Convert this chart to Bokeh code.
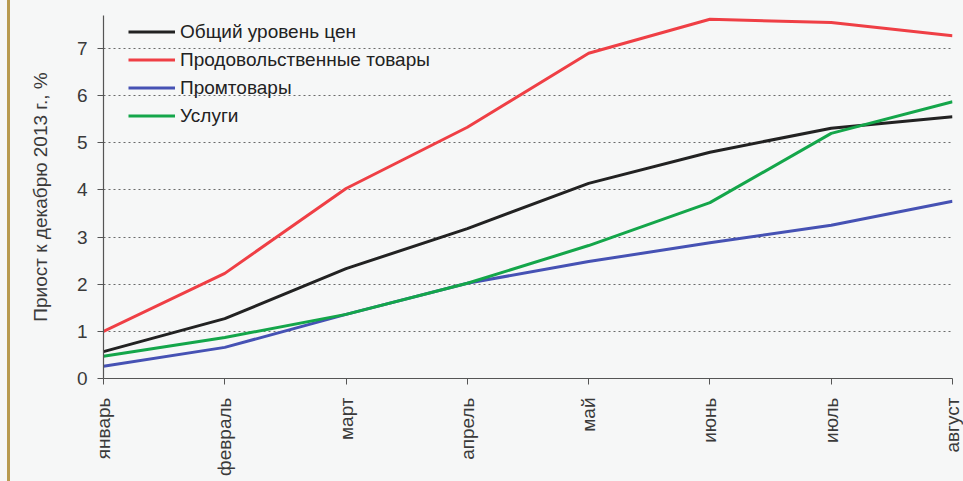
import math
from bokeh.plotting import figure
from bokeh.models import FixedTicker, Legend, LegendItem
from bokeh.embed import file_html
from bokeh.resources import INLINE

months = ["январь", "февраль", "март", "апрель", "май", "июнь", "июль", "август"]
overall = [0.57, 1.27, 2.33, 3.18, 4.14, 4.80, 5.31, 5.55]
food = [1.00, 2.23, 4.03, 5.33, 6.90, 7.62, 7.55, 7.27]
nonfood = [0.26, 0.66, 1.36, 2.02, 2.48, 2.88, 3.25, 3.76]
services = [0.47, 0.87, 1.36, 2.02, 2.82, 3.73, 5.20, 5.87]
series_names = ["Общий уровень цен", "Продовольственные товары", "Промтовары", "Услуги"]
y_ticks = [0, 1, 2, 3, 4, 5, 6, 7]
y_label = "Приост к декабрю 2013 г., %"

colors = ["#222222", "#ef3f45", "#4652b4", "#14a64a"]
FONT = "Liberation Sans"
BG = "#f6f7f7"

x = list(range(len(months)))

p = figure(width=963, height=481, output_backend="svg", toolbar_location=None,
           x_range=(0, len(months) - 1), y_range=(0, 7.7),
           min_border_left=103, min_border_right=11, min_border_top=15, min_border_bottom=103,
           background_fill_color=BG, border_fill_color=BG, border_fill_alpha=0)
p.outline_line_color = None
# scanned page border line at the far left (CSS background behind the transparent border)
p.styles = {"background": "linear-gradient(to right, %s 7px, #b89a50 7px, #b89a50 10px, %s 10px)" % (BG, BG)}

renderers = []
for vals, col in zip([overall, food, nonfood, services], colors):
    r = p.line(x, vals, line_color=col, line_width=3)
    renderers.append(r)

# axes
p.xaxis.ticker = FixedTicker(ticks=x)
p.xaxis.major_label_overrides = {i: m for i, m in enumerate(months)}
p.xaxis.major_label_orientation = math.pi / 2
p.yaxis.ticker = FixedTicker(ticks=y_ticks)
for ax in (p.xaxis, p.yaxis):
    ax.axis_line_color = "#555555"
    ax.axis_line_width = 1.2
    ax.major_tick_line_color = "#555555"
    ax.major_tick_out = 6
    ax.major_tick_in = 0
    ax.minor_tick_line_color = None
    ax.major_label_text_font = FONT
    ax.major_label_text_font_size = "19px"
    ax.major_label_text_color = "#3a3a3a"
    ax.major_label_standoff = 10
p.xaxis.major_label_standoff = 13
p.yaxis.axis_label = y_label
p.yaxis.axis_label_text_font = FONT
p.yaxis.axis_label_text_font_size = "19px"
p.yaxis.axis_label_text_font_style = "normal"
p.yaxis.axis_label_text_color = "#3a3a3a"
p.yaxis.axis_label_standoff = 23

p.xgrid.grid_line_color = None
p.ygrid.ticker = FixedTicker(ticks=y_ticks[1:])
p.ygrid.grid_line_color = "#6a6a6a"
p.ygrid.grid_line_dash = "2 3"
p.ygrid.grid_line_width = 1

items = [LegendItem(label=n, renderers=[r]) for n, r in zip(series_names, renderers)]
legend = Legend(items=items, location=(25, 251), orientation="vertical",
                background_fill_alpha=0, border_line_alpha=0,
                glyph_width=47, glyph_height=23, label_height=23, label_standoff=5,
                spacing=5, padding=0, margin=0,
                label_text_font=FONT, label_text_font_size="19px", label_text_color="#222222")
p.add_layout(legend)

open("out.html", "w").write(file_html(p, INLINE))
